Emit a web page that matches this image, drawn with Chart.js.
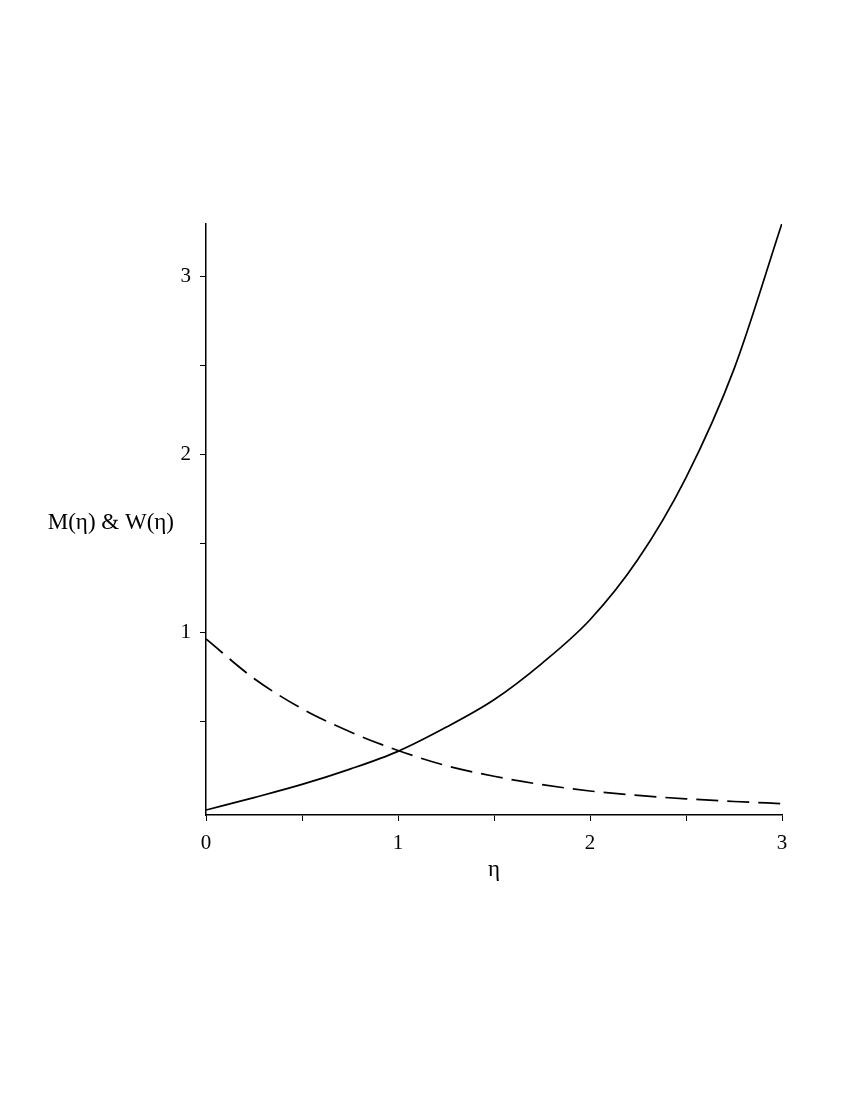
<!DOCTYPE html>
<html>
<head>
<meta charset="utf-8">
<script src="https://cdn.jsdelivr.net/npm/chart.js@4"></script>
<style>
  html, body { margin: 0; padding: 0; background: #fff; }
  #wrap { width: 850px; height: 1100px; }
</style>
</head>
<body>
<div id="wrap"><canvas id="grafica" width="850" height="1100"></canvas></div>
<script>
// valores
const eta = [0, 0.25, 0.5, 0.75, 1, 1.25, 1.5, 1.75, 2, 2.25, 2.5, 2.75, 3];
const valoresM = [0, 0.07, 0.144, 0.23, 0.33, 0.465, 0.62, 0.825, 1.07, 1.41, 1.87, 2.48, 3.3];
const valoresW = [0.962, 0.74, 0.57, 0.44, 0.335, 0.25, 0.19, 0.143, 0.107, 0.082, 0.063, 0.048, 0.036];
const xTicks = [0, 0.5, 1, 1.5, 2, 2.5, 3];
const yTicks = [0.5, 1, 1.5, 2, 2.5, 3];
const yTitle = 'M(η) & W(η)';
const xTitle = 'η';

const fuente = '"Liberation Serif", "DejaVu Serif", serif';

// titulos horizontales, como en la figura original
const titulos = {
    id: 'titulos',
    afterDraw(chart) {
        const ctx = chart.ctx;
        const a = chart.chartArea;
        ctx.save();
        ctx.fillStyle = '#000';
        ctx.font = '23px ' + fuente;
        ctx.textBaseline = 'middle';
        ctx.textAlign = 'right';
        ctx.fillText(yTitle, a.left - 32, (a.top + a.bottom) / 2 + 3);
        ctx.textAlign = 'center';
        ctx.fillText(xTitle, (a.left + a.right) / 2, a.bottom + 55);
        ctx.restore();
    }
};

const puntos = (ys) => eta.map((x, i) => ({ x: x, y: ys[i] }));

new Chart(document.getElementById('grafica').getContext('2d'), {
    type: 'line',
    data: {
        datasets: [
            {
                label: 'M',
                data: puntos(valoresM),
                borderColor: '#000',
                borderWidth: 1.7,
                pointRadius: 0,
                cubicInterpolationMode: 'monotone'
            },
            {
                label: 'W',
                data: puntos(valoresW),
                borderColor: '#000',
                borderWidth: 1.7,
                borderDash: [22, 9],
                pointRadius: 0,
                cubicInterpolationMode: 'monotone'
            }
        ]
    },
    options: {
        responsive: false,
        animation: false,
        events: [],
        layout: { padding: { left: 146, right: 68, top: 224, bottom: 225 } },
        plugins: { legend: { display: false }, tooltip: { enabled: false } },
        scales: {
            x: {
                type: 'linear',
                min: 0,
                max: 3,
                afterBuildTicks: (s) => { s.ticks = xTicks.map(v => ({ value: v })); },
                afterFit: (s) => { s.height = 60; },
                grid: { display: true, drawOnChartArea: false, drawTicks: true, tickLength: 6, color: '#000', lineWidth: 1 },
                border: { display: true, color: '#000', width: 1.5 },
                ticks: {
                    color: '#000',
                    padding: 10,
                    maxRotation: 0,
                    autoSkip: false,
                    font: { family: fuente, size: 21 },
                    callback: (v) => Number.isInteger(v) ? String(v) : ''
                }
            },
            y: {
                type: 'linear',
                min: -0.028,
                max: 3.296,
                afterBuildTicks: (s) => { s.ticks = yTicks.map(v => ({ value: v })); },
                afterFit: (s) => { s.width = 60; },
                grid: { display: true, drawOnChartArea: false, drawTicks: true, tickLength: 6, color: '#000', lineWidth: 1 },
                border: { display: true, color: '#000', width: 1.5 },
                ticks: {
                    color: '#000',
                    padding: 9,
                    autoSkip: false,
                    font: { family: fuente, size: 21 },
                    callback: (v) => Number.isInteger(v) ? String(v) : ''
                }
            }
        }
    },
    plugins: [titulos]
});
</script>
</body>
</html>
